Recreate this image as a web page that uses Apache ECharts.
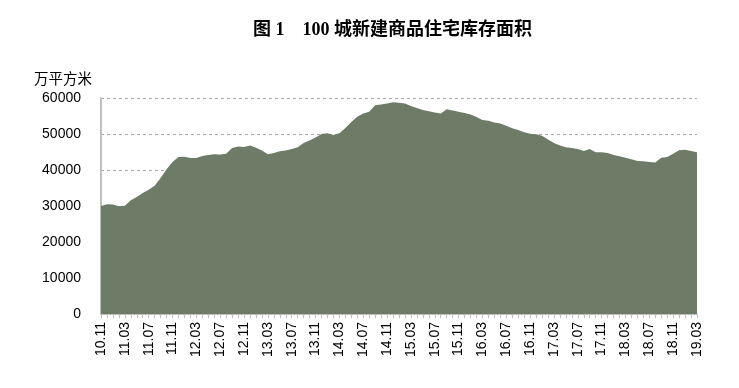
<!DOCTYPE html>
<html><head><meta charset="utf-8">
<script src="https://cdn.jsdelivr.net/npm/echarts@6/dist/echarts.min.js"></script>
<style>html,body{margin:0;padding:0;background:#fff}#c{width:739px;height:388px}</style>
</head><body><div id="c"></div>
<script>
const titleText = '图 1　100 城新建商品住宅库存面积';
const unitName = '万平方米';
const startYear = 2010, startMonth = 11, monthCount = 101;
const categories = [];
for (let k = 0; k < monthCount; k++) {
  const m = (startMonth - 1 + k) % 12 + 1;
  const y = startYear + Math.floor((startMonth - 1 + k) / 12);
  categories.push(String(y % 100).padStart(2, '0') + '.' + String(m).padStart(2, '0'));
}
const inventory = [
  30000,30500,30400,29900,30100,31600,32500,33600,34500,35600,
  37800,40200,42200,43600,43700,43300,43300,43900,44200,44400,
  44300,44500,46100,46500,46400,46800,46200,45400,44400,44700,
  45200,45400,45800,46300,47500,48200,49000,50000,50200,49700,
  50200,51700,53300,54800,55700,56200,58000,58200,58500,58800,
  58700,58500,57800,57200,56700,56300,56000,55700,56900,56500,
  56200,55800,55400,54700,53900,53700,53200,52900,52300,51600,
  51100,50500,50100,49900,49500,48500,47500,46800,46300,46100,
  45800,45300,45800,44900,44900,44700,44200,43800,43400,43000,
  42500,42400,42200,42100,43400,43600,44500,45500,45600,45300,
  44900
];
const yTicks = [0, 60000, 10000];

const chart = echarts.init(document.getElementById('c'), null, {renderer: 'canvas'});
chart.setOption({
  animation: false,
  backgroundColor: '#fff',
  title: {
    text: titleText, left: 248, top: 16,
    textStyle: {fontFamily: '"Liberation Serif","Noto Sans CJK SC"', fontSize: 18, fontWeight: 'bold', color: '#000'}
  },
  grid: {left: 101, right: 42, top: 98, bottom: 74},
  xAxis: {
    type: 'category', data: categories, boundaryGap: false,
    axisLine: {show: true, lineStyle: {color: '#bfbfbf', width: 1}},
    axisTick: {show: true, interval: 0, length: 4, lineStyle: {color: '#bfbfbf'}},
    axisLabel: {interval: 3, rotate: 90, margin: 8, color: '#000', fontSize: 14, fontFamily: '"Liberation Sans", Arial'},
    splitLine: {show: false}
  },
  yAxis: {
    type: 'value', min: yTicks[0], max: yTicks[1], interval: yTicks[2],
    name: unitName, nameLocation: 'end', nameGap: 12,
    nameTextStyle: {color: '#000', fontSize: 14.5, align: 'right', padding: [0, 9, 0, 0], fontFamily: '"Noto Sans CJK SC"'},
    axisLine: {show: true, lineStyle: {color: '#bfbfbf', width: 2}},
    axisTick: {show: false},
    axisLabel: {color: '#000', fontSize: 14, margin: 20, fontFamily: '"Liberation Sans", Arial', formatter: v => String(v)},
    splitLine: {show: true, lineStyle: {color: '#a6a6a6', type: [3, 3], width: 1}}
  },
  series: [{
    type: 'line', data: inventory, symbol: 'none', smooth: false,
    lineStyle: {width: 0, color: '#6e7b66'},
    areaStyle: {color: '#6e7b66', opacity: 1}
  }]
});
</script></body></html>
